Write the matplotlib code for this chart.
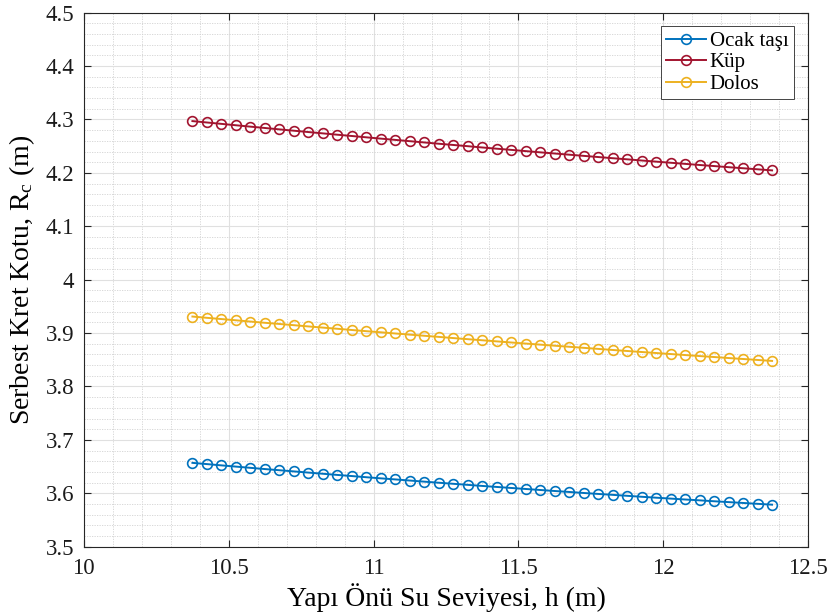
import matplotlib
matplotlib.use("Agg")
import matplotlib.pyplot as plt
from matplotlib.ticker import MultipleLocator

plt.rcParams['font.family'] = ['Liberation Serif', 'DejaVu Serif']
plt.rcParams['mathtext.fontset'] = 'custom'
plt.rcParams['mathtext.rm'] = 'Liberation Serif'
plt.rcParams['mathtext.it'] = 'Liberation Serif:italic'

h = [10.375, 10.425, 10.475, 10.525, 10.575, 10.625, 10.675, 10.725, 10.775, 10.825,
     10.875, 10.925, 10.975, 11.025, 11.075, 11.125, 11.175, 11.225, 11.275, 11.325,
     11.375, 11.425, 11.475, 11.525, 11.575, 11.625, 11.675, 11.725, 11.775, 11.825,
     11.875, 11.925, 11.975, 12.025, 12.075, 12.125, 12.175, 12.225, 12.275, 12.325,
     12.375]

ocak = [3.6570, 3.6547, 3.6523, 3.6500, 3.6477, 3.6454, 3.6432, 3.6410, 3.6388, 3.6366,
        3.6344, 3.6323, 3.6301, 3.6280, 3.6260, 3.6239, 3.6218, 3.6198, 3.6178, 3.6158,
        3.6138, 3.6119, 3.6100, 3.6081, 3.6062, 3.6043, 3.6025, 3.6006, 3.5988, 3.5971,
        3.5953, 3.5935, 3.5918, 3.5901, 3.5884, 3.5868, 3.5851, 3.5835, 3.5819, 3.5803,
        3.5787]

kup = [4.2970, 4.2944, 4.2918, 4.2892, 4.2866, 4.2841, 4.2815, 4.2790, 4.2765, 4.2740,
       4.2715, 4.2691, 4.2666, 4.2642, 4.2618, 4.2594, 4.2570, 4.2546, 4.2523, 4.2500,
       4.2476, 4.2453, 4.2431, 4.2408, 4.2385, 4.2363, 4.2341, 4.2319, 4.2297, 4.2275,
       4.2254, 4.2232, 4.2211, 4.2190, 4.2169, 4.2148, 4.2128, 4.2107, 4.2087, 4.2067,
       4.2047]

dolos = [3.9310, 3.9286, 3.9263, 3.9240, 3.9216, 3.9193, 3.9171, 3.9148, 3.9125, 3.9103,
         3.9081, 3.9058, 3.9036, 3.9015, 3.8993, 3.8971, 3.8950, 3.8929, 3.8907, 3.8886,
         3.8866, 3.8845, 3.8824, 3.8804, 3.8784, 3.8764, 3.8744, 3.8724, 3.8704, 3.8684,
         3.8665, 3.8646, 3.8627, 3.8608, 3.8589, 3.8570, 3.8552, 3.8533, 3.8515, 3.8497,
         3.8479]

labels = ['Ocak taşı', 'Küp', 'Dolos']
colors = ['#0072BD', '#A2142F', '#EDB120']
xticks = [10, 10.5, 11, 11.5, 12, 12.5]
yticks = [3.5, 3.6, 3.7, 3.8, 3.9, 4.0, 4.1, 4.2, 4.3, 4.4, 4.5]
ytick_labels = ['3.5', '3.6', '3.7', '3.8', '3.9', '4', '4.1', '4.2', '4.3', '4.4', '4.5']

fig = plt.figure(figsize=(8.34, 6.16), dpi=100)
ax = fig.add_axes([0.1004, 0.1125, 0.8688, 0.8669])

for y, lab, c in zip([ocak, kup, dolos], labels, colors):
    ax.plot(h, y, color=c, lw=1.4, marker='o', ms=7, mfc='none', mew=1.2, label=lab)

ax.set_xlim(10, 12.5)
ax.set_ylim(3.5, 4.5)
ax.set_xticks(xticks)
ax.set_xticklabels([('%g' % v) for v in xticks])
ax.set_yticks(yticks)
ax.set_yticklabels(ytick_labels)
ax.xaxis.set_minor_locator(MultipleLocator(0.1))
ax.yaxis.set_minor_locator(MultipleLocator(0.02))

ax.grid(which='major', color='#e0e0e0', lw=0.8, ls='-')
ax.grid(which='minor', color='#d2d2d2', lw=0.6, ls=(0, (1.5, 1.5)))
ax.set_axisbelow(True)

axcol = '#262626'
for s in ax.spines.values():
    s.set_color(axcol)
    s.set_linewidth(0.8)
ax.tick_params(which='major', direction='in', length=5, width=0.8, colors=axcol,
               top=True, right=True, labelsize=16.5)
ax.tick_params(axis='x', which='major', pad=8)
ax.tick_params(axis='y', which='major', pad=7)
ax.tick_params(which='minor', length=0, top=True, right=True)
for t in ax.get_xticklabels() + ax.get_yticklabels():
    t.set_color('#1a1a1a')

ax.set_xlabel('Yapı Önü Su Seviyesi, h (m)', fontsize=20, labelpad=3)
ax.set_ylabel(r'Serbest Kret Kotu, R$_\mathregular{c}$ (m)', fontsize=20, labelpad=6)

leg = ax.legend(loc='upper right', bbox_to_anchor=(0.980, 0.975), fontsize=15,
                fancybox=False, framealpha=1, edgecolor='#262626',
                handlelength=1.9, handletextpad=0.2, borderpad=0.25,
                labelspacing=0.1, borderaxespad=0.0)
leg.get_frame().set_linewidth(0.6)

fig.savefig('out.png', dpi=100)
